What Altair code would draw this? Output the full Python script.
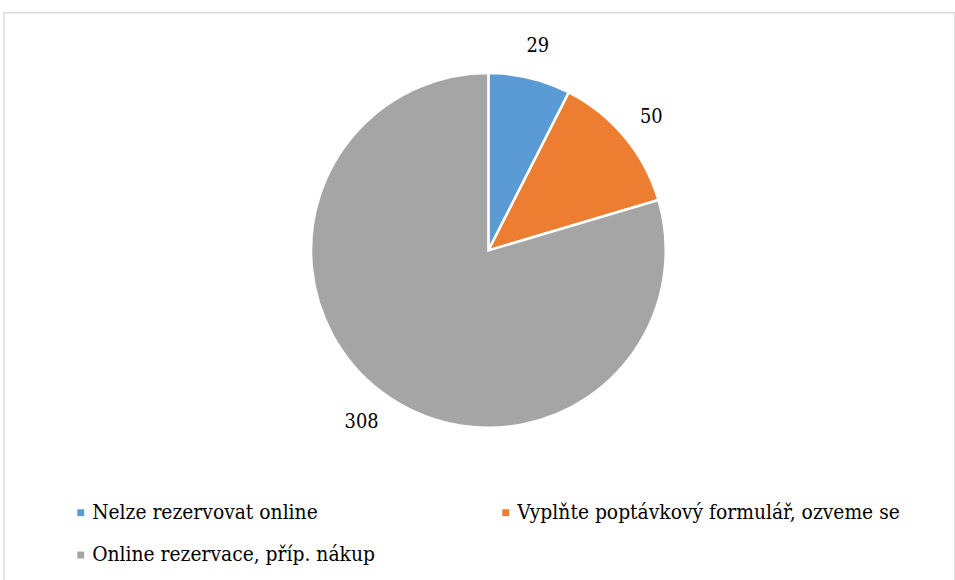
import altair as alt
import pandas as pd

categories = ["Nelze rezervovat online", "Vyplňte poptávkový formulář, ozveme se", "Online rezervace, příp. nákup"]
values = [29, 50, 308]
colors = ["#5B9BD5", "#ED7D31", "#A5A5A5"]

df = pd.DataFrame({"kategorie": categories, "pocet": values, "poradi": list(range(len(values)))})

FONT = "DejaVu Serif Condensed"

base = alt.Chart(df).encode(
    theta=alt.Theta("pocet:Q", stack=True),
    order=alt.Order("poradi:Q"),
)

pie = base.mark_arc(outerRadius=179, stroke="white", strokeWidth=2.5).encode(
    x=alt.value(489),
    y=alt.value(240),
    color=alt.Color(
        "kategorie:N",
        scale=alt.Scale(domain=categories, range=colors),
        legend=alt.Legend(
            title=None,
            orient="none",
            direction="horizontal",
            legendX=67,
            legendY=494,
            columns=2,
            columnPadding=121,
            rowPadding=21,
            symbolType="square",
            symbolSize=49,
            symbolStrokeWidth=0,
            labelFont=FONT,
            labelFontSize=21,
            labelColor="#000000",
            labelOffset=1,
            labelLimit=500,
        ),
    ),
)

labels = base.mark_text(radius=214, font=FONT, fontSize=20, color="#000000").encode(
    x=alt.value(489),
    y=alt.value(242),
    text=alt.Text("pocet:Q"),
)

chart = (
    alt.layer(pie, labels)
    .properties(
        width=960,
        height=580,
        padding={"left": 4, "top": 10, "right": 0, "bottom": 0},
        autosize=alt.AutoSizeParams(type="none"),
        background="white",
    )
    .configure_view(stroke="#D9D9D9", strokeWidth=1.5)
)

chart.save("out.html", embed_options={"renderer": "svg", "actions": False})
